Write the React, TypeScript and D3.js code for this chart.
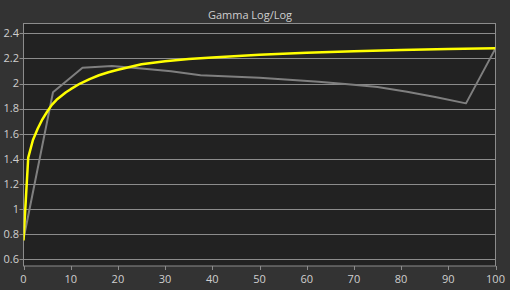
import React from "react";
import * as d3 from "d3";

const title = "Gamma Log/Log";
const xTicks = [0, 10, 20, 30, 40, 50, 60, 70, 80, 90, 100];
const yTicks = [0.6, 0.8, 1, 1.2, 1.4, 1.6, 1.8, 2, 2.2, 2.4];

const measuredX = [0, 6.25, 12.5, 18.75, 25, 31.25, 37.5, 43.75, 50, 56.25, 62.5, 68.75, 75, 81.25, 87.5, 93.75, 100];
const measuredY = [0.76, 1.93, 2.125, 2.14, 2.12, 2.097, 2.066, 2.055, 2.045, 2.03, 2.015, 1.995, 1.973, 1.935, 1.89, 1.842, 2.28];

const targetX = [0, 1, 2, 3, 4, 5, 6, 7, 8, 9, 10, 12, 14, 16, 18, 20, 25, 30, 35, 40, 50, 60, 70, 80, 90, 100];
const targetY = [0.75, 1.41, 1.55, 1.64, 1.715, 1.775, 1.83, 1.87, 1.9, 1.93, 1.955, 2.0, 2.035, 2.066, 2.09, 2.11, 2.153, 2.178, 2.195, 2.207, 2.229, 2.245, 2.257, 2.267, 2.274, 2.28];

export default function App() {
  const W = 510, H = 290;
  const left = 23.5, right = 495.5, top = 23.5, bottom = 266;
  const x = d3.scaleLinear().domain([0, 100]).range([left, right]);
  const y = d3.scaleLinear().domain([0.6, 2.4]).range([259.3, 33.3]);
  const line = d3.line<[number, number]>().x(d => x(d[0])).y(d => y(d[1]));
  const measured = measuredX.map((v, i) => [v, measuredY[i]] as [number, number]);
  const target = targetX.map((v, i) => [v, targetY[i]] as [number, number]);
  const font = "'Open Sans', 'DejaVu Sans', sans-serif";
  const textColor = "#cfcfcf";
  const gridColor = "#8c8c8c";
  return (
    <svg width={W} height={H} style={{ position: "absolute", left: 0, top: 0 }} fontFamily={font}>
      <rect x={0} y={0} width={W} height={H} fill="#333333" />
      <rect x={left} y={top} width={right - left} height={bottom - top} fill="#222222" />
      <defs>
        <clipPath id="plot">
          <rect x={left} y={top} width={right - left} height={bottom - top} />
        </clipPath>
      </defs>
      {yTicks.map(t => (
        <g key={"y" + t}>
          <line x1={left} x2={right} y1={Math.round(y(t)) + 0.5} y2={Math.round(y(t)) + 0.5} stroke={gridColor} strokeWidth={1} />
          <line x1={left - 4} x2={left} y1={Math.round(y(t)) + 0.5} y2={Math.round(y(t)) + 0.5} stroke={gridColor} strokeWidth={1} />
          <text x={19} y={y(t)} dy="0.35em" textAnchor="end" fontSize={11} fill={textColor}>{d3.format("")(t)}</text>
        </g>
      ))}
      {xTicks.map(t => (
        <g key={"x" + t}>
          <line x1={Math.round(x(t)) + 0.5} x2={Math.round(x(t)) + 0.5} y1={bottom} y2={bottom + 4} stroke={gridColor} strokeWidth={1} />
          <text x={x(t)} y={283} textAnchor="middle" fontSize={11} fill={textColor}>{t}</text>
        </g>
      ))}
      <rect x={left} y={top} width={right - left} height={bottom - top} fill="none" stroke={gridColor} strokeWidth={1} />
      <g clipPath="url(#plot)">
        <path d={line(measured) || ""} fill="none" stroke="#7f7f7f" strokeWidth={2} strokeLinejoin="round" />
        <path d={line(target) || ""} fill="none" stroke="#ffff00" strokeWidth={2.5} strokeLinejoin="round" />
      </g>
      <text x={250} y={19} textAnchor="middle" fontSize={11} fill={textColor}>{title}</text>
    </svg>
  );
}
